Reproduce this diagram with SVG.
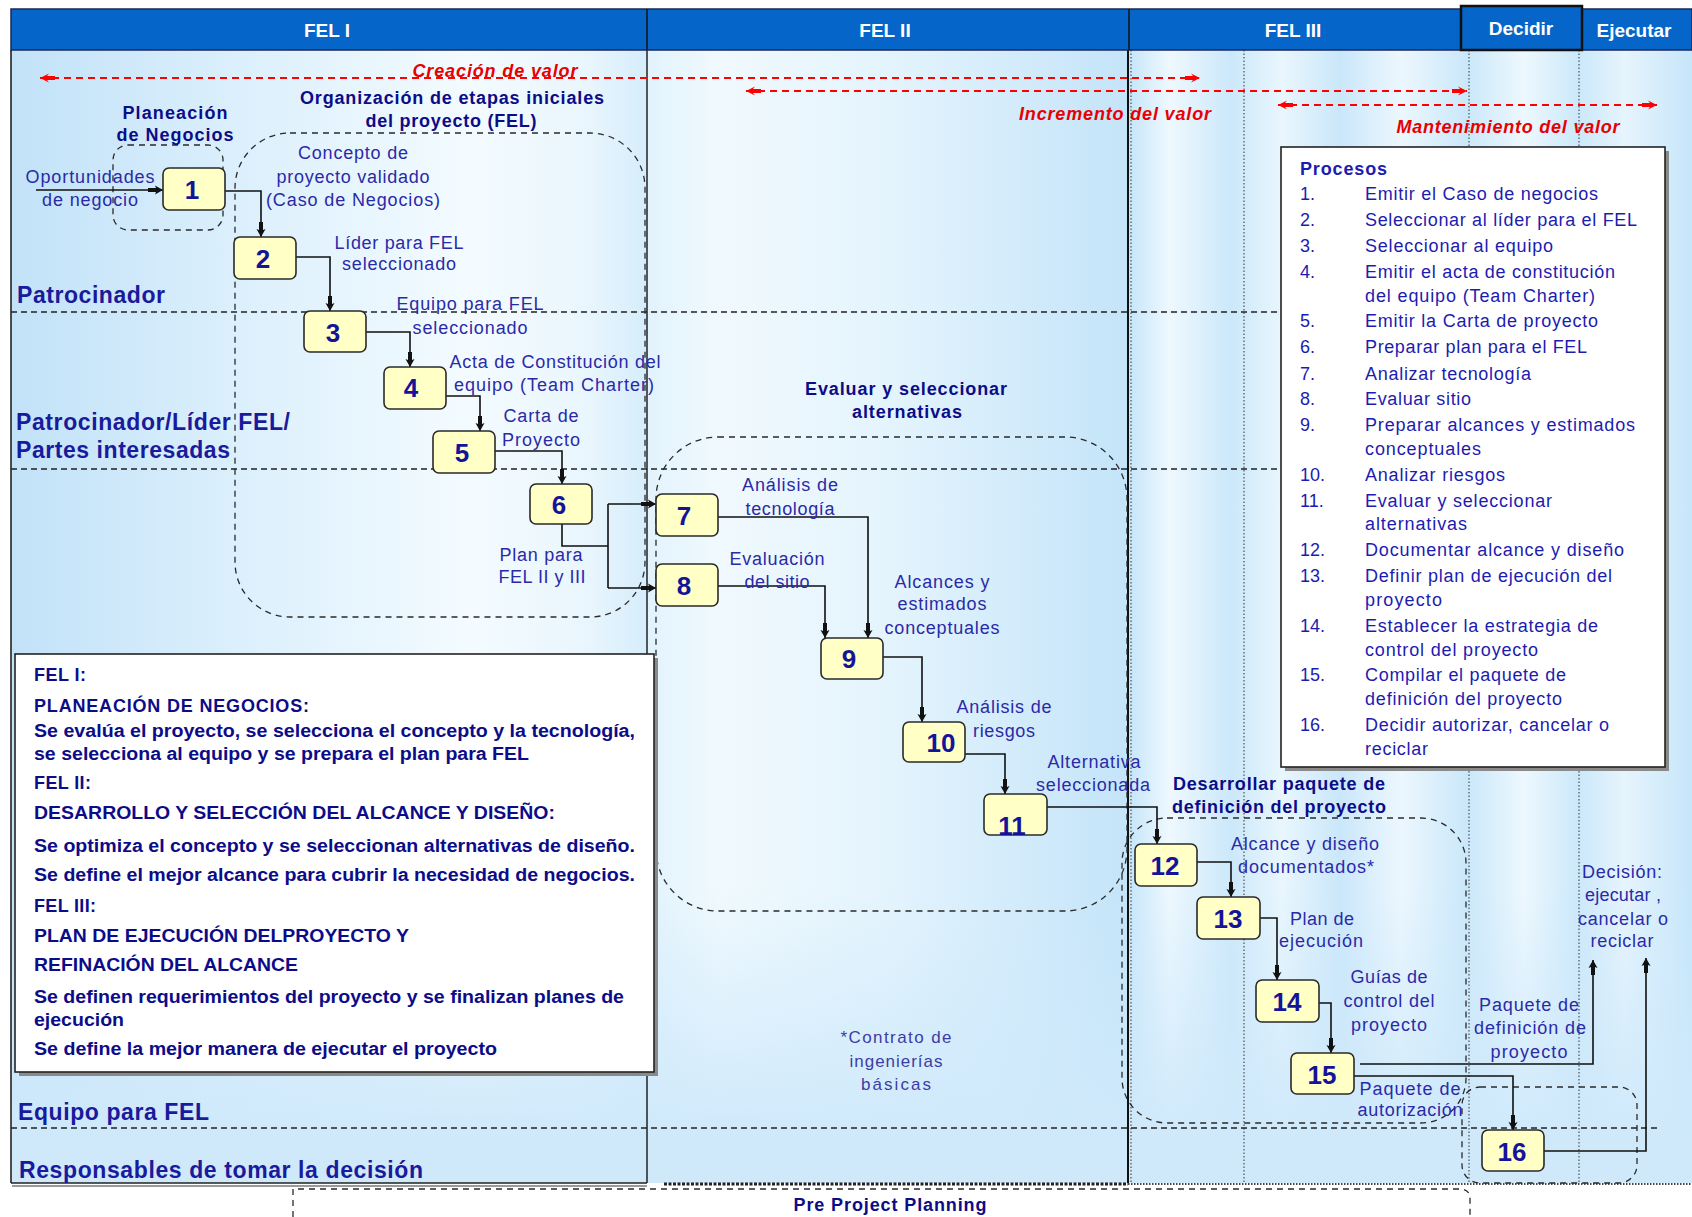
<svg xmlns="http://www.w3.org/2000/svg" width="1692" height="1217" viewBox="0 0 1692 1217">
  <style>
    text { font-family: "Liberation Sans", Arial, sans-serif; }
    .lbl { font-size: 18px; fill: #2a2aa8; text-anchor: middle; }
    .note { font-size: 17px; fill: #3c3ca4; text-anchor: middle; }
    .hd { font-size: 18px; font-weight: bold; fill: #0c0c88; text-anchor: middle; }
    .lane { font-size: 23px; font-weight: bold; fill: #1a1a9c; }
    .num { font-size: 26px; font-weight: bold; fill: #14149a; text-anchor: middle; }
    .red { font-size: 18px; font-style: italic; font-weight: bold; fill: #e80000; text-anchor: middle; }
    .hdr { font-size: 19px; font-weight: bold; fill: #ffffff; text-anchor: middle; }
    .leg { font-size: 18px; font-weight: bold; fill: #0c0c88; }
    .proc { font-size: 18px; fill: #1c1cb0; }
    .node rect { fill: #ffffc6; stroke: #2a2a2a; stroke-width: 1.6; }
    .conn { fill: none; stroke: #111111; stroke-width: 1.6; }
    .grp { fill: none; stroke: #2a2a2a; stroke-width: 1.3; stroke-dasharray: 6 5; }
    .laneline { stroke: #222222; stroke-width: 1.5; stroke-dasharray: 6 4; }
    .dot { stroke: #333333; stroke-width: 1; stroke-dasharray: 1.5 2; }
    .value { fill: none; stroke: #ff0000; stroke-width: 2; stroke-dasharray: 7 5; }
    .box { fill: #ffffff; stroke: #222222; stroke-width: 1.6; }
    .shadow { fill: #8a8a8a; }
  </style>
  <defs>
    <linearGradient id="gFel1" x1="11" y1="0" x2="647" y2="0" gradientUnits="userSpaceOnUse">
      <stop offset="0" stop-color="#c2e2f8"/>
      <stop offset="0.35" stop-color="#dbeffc"/>
      <stop offset="0.72" stop-color="#f3fbff"/>
      <stop offset="0.9" stop-color="#eaf6fd"/>
      <stop offset="1" stop-color="#d6edfb"/>
    </linearGradient>
    <linearGradient id="gFel2" x1="647" y1="0" x2="1129" y2="0" gradientUnits="userSpaceOnUse">
      <stop offset="0" stop-color="#e2f3fd"/>
      <stop offset="0.15" stop-color="#f0f9fe"/>
      <stop offset="0.5" stop-color="#e4f4fd"/>
      <stop offset="1" stop-color="#c4e4f9"/>
    </linearGradient>
    <linearGradient id="gFel3" x1="1129" y1="0" x2="1469" y2="0" gradientUnits="userSpaceOnUse">
      <stop offset="0" stop-color="#c6e6fa"/>
      <stop offset="0.12" stop-color="#eef8fe"/>
      <stop offset="0.3" stop-color="#cbe8fa"/>
      <stop offset="0.45" stop-color="#e9f6fd"/>
      <stop offset="0.62" stop-color="#cae7fa"/>
      <stop offset="0.8" stop-color="#ecf7fe"/>
      <stop offset="1" stop-color="#c9e7fa"/>
    </linearGradient>
    <linearGradient id="gDec" x1="1469" y1="0" x2="1579" y2="0" gradientUnits="userSpaceOnUse">
      <stop offset="0" stop-color="#cbe8fa"/>
      <stop offset="0.5" stop-color="#edf8fe"/>
      <stop offset="1" stop-color="#cbe8fa"/>
    </linearGradient>
    <linearGradient id="gEje" x1="1579" y1="0" x2="1692" y2="0" gradientUnits="userSpaceOnUse">
      <stop offset="0" stop-color="#cbe8fa"/>
      <stop offset="0.4" stop-color="#e6f4fd"/>
      <stop offset="1" stop-color="#c6e6fa"/>
    </linearGradient>
    <linearGradient id="gFade" x1="0" y1="50" x2="0" y2="1183" gradientUnits="userSpaceOnUse">
      <stop offset="0" stop-color="#cfe9fb" stop-opacity="0"/>
      <stop offset="0.74" stop-color="#cfe9fb" stop-opacity="0"/>
      <stop offset="0.96" stop-color="#cfe9fb" stop-opacity="1"/>
      <stop offset="1" stop-color="#cfe9fb" stop-opacity="1"/>
    </linearGradient>
    <marker id="arr" viewBox="-16 -5 17 10" refX="0" refY="0" markerWidth="17" markerHeight="10" markerUnits="userSpaceOnUse" orient="auto">
      <path d="M0,0 L-8,-4.5 L-7,-2 L-15,-2 L-15,2 L-7,2 L-8,4.5 Z" fill="#111111"/>
    </marker>
    <marker id="arrRed" viewBox="-16 -5 17 10" refX="0" refY="0" markerWidth="17" markerHeight="10" markerUnits="userSpaceOnUse" orient="auto-start-reverse">
      <path d="M0,0 L-9,-4.5 L-7,-2 L-15,-2 L-15,2 L-7,2 L-9,4.5 Z" fill="#ff0000"/>
    </marker>
  </defs>

  <!-- page -->
  <rect x="0" y="0" width="1692" height="1217" fill="#ffffff"/>

  <!-- swimlane body -->
  <g id="body">
    <rect x="11" y="50" width="1681" height="1133" fill="#cfe9fb"/>
    <rect x="11" y="50" width="636" height="1133" fill="url(#gFel1)"/>
    <rect x="647" y="50" width="482" height="1133" fill="url(#gFel2)"/>
    <rect x="1129" y="50" width="340" height="1133" fill="url(#gFel3)"/>
    <rect x="1469" y="50" width="110" height="1133" fill="url(#gDec)"/>
    <rect x="1579" y="50" width="113" height="1133" fill="url(#gEje)"/>
    <rect x="11" y="50" width="1681" height="1133" fill="url(#gFade)"/>
    <!-- column dividers -->
    <line x1="11" y1="50" x2="11" y2="1183" stroke="#222" stroke-width="1.6"/>
    <line x1="647" y1="50" x2="647" y2="1183" stroke="#222" stroke-width="1.5"/>
    <line x1="1128" y1="50" x2="1128" y2="1183" stroke="#111" stroke-width="2"/>
    <line x1="1131" y1="50" x2="1131" y2="1183" class="dot"/>
    <line x1="1244" y1="50" x2="1244" y2="1183" class="dot"/>
    <line x1="1469" y1="50" x2="1469" y2="1183" class="dot"/>
    <line x1="1579" y1="50" x2="1579" y2="1183" class="dot"/>
    <!-- lane separators -->
    <line x1="11" y1="312" x2="1281" y2="312" class="laneline"/>
    <line x1="11" y1="469" x2="1281" y2="469" class="laneline"/>
    <line x1="11" y1="1128" x2="1657" y2="1128" class="laneline"/>
    <!-- bottom edge -->
    <line x1="11" y1="1183" x2="647" y2="1183" stroke="#222" stroke-width="1.6"/>
    <line x1="12" y1="1186" x2="647" y2="1186" stroke="#9a9a9a" stroke-width="2"/>
    <line x1="664" y1="1184" x2="1128" y2="1184" stroke="#222" stroke-width="3" stroke-dasharray="3 1.5"/>
    <line x1="1128" y1="1184" x2="1692" y2="1184" stroke="#444" stroke-width="2" stroke-dasharray="1.5 1.5"/>
  </g>

  <!-- phase header -->
  <g id="header">
    <rect x="11" y="9" width="1681" height="41" fill="#0665c9" stroke="#1a2a55" stroke-width="1.5"/>
    <line x1="647" y1="9" x2="647" y2="50" stroke="#111" stroke-width="1.5"/>
    <line x1="1129" y1="9" x2="1129" y2="50" stroke="#111" stroke-width="1.5"/>
    <rect x="1461" y="6" width="121" height="44" fill="#0665c9" stroke="#111" stroke-width="2.5"/>
    <text class="hdr" x="327" y="37">FEL I</text>
    <text class="hdr" x="885" y="37">FEL II</text>
    <text class="hdr" x="1293" y="37">FEL III</text>
    <text class="hdr" x="1521" y="35">Decidir</text>
    <text class="hdr" x="1634" y="37">Ejecutar</text>
  </g>

  <!-- value arrows -->
  <g id="value-arrows">
    <line x1="40" y1="78" x2="1200" y2="78" class="value" marker-start="url(#arrRed)" marker-end="url(#arrRed)"/>
    <line x1="746" y1="91" x2="1467" y2="91" class="value" marker-start="url(#arrRed)" marker-end="url(#arrRed)"/>
    <line x1="1278" y1="105" x2="1657" y2="105" class="value" marker-start="url(#arrRed)" marker-end="url(#arrRed)"/>
    <text class="red" x="495" y="77" textLength="165">Creación de valor</text>
    <text class="red" x="1115" y="120" textLength="192">Incremento del valor</text>
    <text class="red" x="1508" y="133" textLength="223">Mantenimiento del valor</text>
  </g>

  <!-- lane names -->
  <g id="lanes">
    <text class="lane" x="17" y="303" textLength="148">Patrocinador</text>
    <text class="lane" x="16" y="430" textLength="274">Patrocinador/Líder FEL/</text>
    <text class="lane" x="16" y="458" textLength="214">Partes interesadas</text>
    <text class="lane" x="18" y="1120" textLength="191">Equipo para FEL</text>
    <text class="lane" x="19" y="1178" textLength="404">Responsables de tomar la decisión</text>
  </g>

  <!-- stage groupings -->
  <g id="groups">
    <rect class="grp" x="113" y="145" width="110" height="85" rx="15"/>
    <rect class="grp" x="235" y="133" width="410" height="484" rx="55"/>
    <rect class="grp" x="656" y="437" width="471" height="474" rx="62"/>
    <rect class="grp" x="1122" y="818" width="344" height="305" rx="45"/>
    <rect class="grp" x="1462" y="1087" width="175" height="96" rx="18"/>
    <path class="grp" d="M293,1217 V1189 H1460 Q1470,1189 1470,1199 V1217"/>
    <text class="hd" x="175" y="119" textLength="105">Planeación</text>
    <text class="hd" x="175" y="141" textLength="117">de Negocios</text>
    <text class="hd" x="452" y="104" textLength="304">Organización de etapas iniciales</text>
    <text class="hd" x="451" y="127" textLength="171">del proyecto (FEL)</text>
    <text class="hd" x="906" y="395" textLength="202">Evaluar y seleccionar</text>
    <text class="hd" x="907" y="418" textLength="110">alternativas</text>
    <text class="hd" x="1279" y="790" textLength="212">Desarrollar paquete de</text>
    <text class="hd" x="1279" y="813" textLength="214">definición del proyecto</text>
    <text class="hd" x="890" y="1211" textLength="193">Pre Project Planning</text>
  </g>

  <!-- connectors -->
  <g id="connectors">
    <path class="conn" d="M36,190 H163" marker-end="url(#arr)"/>
    <path class="conn" d="M225,191 H261 V237" marker-end="url(#arr)"/>
    <path class="conn" d="M296,257 H330 V311" marker-end="url(#arr)"/>
    <path class="conn" d="M366,332 H410 V367" marker-end="url(#arr)"/>
    <path class="conn" d="M446,396 H480 V431" marker-end="url(#arr)"/>
    <path class="conn" d="M495,451 H562 V484" marker-end="url(#arr)"/>
    <path class="conn" d="M562,524 V546 H608 M608,504 V588"/>
    <path class="conn" d="M608,504 H656" marker-end="url(#arr)"/>
    <path class="conn" d="M608,588 H656" marker-end="url(#arr)"/>
    <path class="conn" d="M718,517 H868 V638" marker-end="url(#arr)"/>
    <path class="conn" d="M718,586 H825 V638" marker-end="url(#arr)"/>
    <path class="conn" d="M882,657 H922 V722" marker-end="url(#arr)"/>
    <path class="conn" d="M965,754 H1005 V794" marker-end="url(#arr)"/>
    <path class="conn" d="M1047,807 H1157 V844" marker-end="url(#arr)"/>
    <path class="conn" d="M1197,862 H1231 V897" marker-end="url(#arr)"/>
    <path class="conn" d="M1260,918 H1277 V980" marker-end="url(#arr)"/>
    <path class="conn" d="M1319,1003 H1331 V1053" marker-end="url(#arr)"/>
    <path class="conn" d="M1354,1076 H1513 V1130" marker-end="url(#arr)"/>
    <path class="conn" d="M1360,1064 H1593 V960" marker-end="url(#arr)"/>
    <path class="conn" d="M1544,1151 H1646 V958" marker-end="url(#arr)"/>
  </g>

  <!-- flow labels -->
  <g id="flow-labels">
    <text class="lbl" x="90" y="183" textLength="129">Oportunidades</text>
    <text class="lbl" x="90" y="206" textLength="96">de negocio</text>
    <text class="lbl" x="353" y="159" textLength="110">Concepto de</text>
    <text class="lbl" x="353" y="183" textLength="153">proyecto validado</text>
    <text class="lbl" x="353" y="206" textLength="174">(Caso de Negocios)</text>
    <text class="lbl" x="399" y="249" textLength="129">Líder para FEL</text>
    <text class="lbl" x="399" y="270" textLength="114">seleccionado</text>
    <text class="lbl" x="470" y="310" textLength="147">Equipo para FEL</text>
    <text class="lbl" x="470" y="334" textLength="115">seleccionado</text>
    <text class="lbl" x="555" y="368" textLength="211">Acta de Constitución del</text>
    <text class="lbl" x="554" y="391" textLength="200">equipo (Team Charter)</text>
    <text class="lbl" x="541" y="422" textLength="75">Carta de</text>
    <text class="lbl" x="541" y="446" textLength="78">Proyecto</text>
    <text class="lbl" x="541" y="561" textLength="83">Plan para</text>
    <text class="lbl" x="542" y="583" textLength="87">FEL II y III</text>
    <text class="lbl" x="790" y="491" textLength="96">Análisis de</text>
    <text class="lbl" x="790" y="515" textLength="89">tecnología</text>
    <text class="lbl" x="777" y="565" textLength="95">Evaluación</text>
    <text class="lbl" x="777" y="588" textLength="65">del sitio</text>
    <text class="lbl" x="942" y="588" textLength="95">Alcances y</text>
    <text class="lbl" x="942" y="610" textLength="89">estimados</text>
    <text class="lbl" x="942" y="634" textLength="115">conceptuales</text>
    <text class="lbl" x="1004" y="713" textLength="95">Análisis de</text>
    <text class="lbl" x="1004" y="737" textLength="62">riesgos</text>
    <text class="lbl" x="1094" y="768" textLength="93">Alternativa</text>
    <text class="lbl" x="1093" y="791" textLength="114">seleccionada</text>
    <text class="lbl" x="1305" y="850" textLength="148">Alcance y diseño</text>
    <text class="lbl" x="1306" y="873" textLength="136">documentados*</text>
    <text class="lbl" x="1322" y="925" textLength="64">Plan de</text>
    <text class="lbl" x="1321" y="947" textLength="84">ejecución</text>
    <text class="lbl" x="1389" y="983" textLength="77">Guías de</text>
    <text class="lbl" x="1389" y="1007" textLength="91">control del</text>
    <text class="lbl" x="1389" y="1031" textLength="76">proyecto</text>
    <text class="lbl" x="1529" y="1011" textLength="100">Paquete de</text>
    <text class="lbl" x="1530" y="1034" textLength="112">definición de</text>
    <text class="lbl" x="1529" y="1058" textLength="77">proyecto</text>
    <text class="lbl" x="1410" y="1095" textLength="101">Paquete de</text>
    <text class="lbl" x="1410" y="1116" textLength="105">autorización</text>
    <text class="lbl" x="1622" y="878" textLength="80">Decisión:</text>
    <text class="lbl" x="1623" y="901" textLength="76">ejecutar ,</text>
    <text class="lbl" x="1623" y="925" textLength="90">cancelar o</text>
    <text class="lbl" x="1622" y="947" textLength="63">reciclar</text>
    <text class="note" x="896" y="1043" textLength="111">*Contrato de</text>
    <text class="note" x="896" y="1067" textLength="93">ingenierías</text>
    <text class="note" x="896" y="1090" textLength="70">básicas</text>
  </g>

  <!-- process nodes -->
  <g id="node-1" class="node"><rect x="163" y="168" width="62" height="42" rx="6"/><text class="num" x="192" y="199">1</text></g>
  <g id="node-2" class="node"><rect x="234" y="237" width="62" height="42" rx="6"/><text class="num" x="263" y="268">2</text></g>
  <g id="node-3" class="node"><rect x="304" y="311" width="62" height="41" rx="6"/><text class="num" x="333" y="342">3</text></g>
  <g id="node-4" class="node"><rect x="384" y="367" width="62" height="42" rx="6"/><text class="num" x="411" y="397">4</text></g>
  <g id="node-5" class="node"><rect x="433" y="431" width="62" height="42" rx="6"/><text class="num" x="462" y="462">5</text></g>
  <g id="node-6" class="node"><rect x="530" y="484" width="62" height="40" rx="6"/><text class="num" x="559" y="514">6</text></g>
  <g id="node-7" class="node"><rect x="656" y="494" width="62" height="42" rx="6"/><text class="num" x="684" y="525">7</text></g>
  <g id="node-8" class="node"><rect x="656" y="564" width="62" height="42" rx="6"/><text class="num" x="684" y="595">8</text></g>
  <g id="node-9" class="node"><rect x="821" y="638" width="62" height="41" rx="6"/><text class="num" x="849" y="668">9</text></g>
  <g id="node-10" class="node"><rect x="903" y="722" width="62" height="40" rx="6"/><text class="num" x="941" y="752">10</text></g>
  <g id="node-11" class="node"><rect x="984" y="794" width="63" height="41" rx="6"/><text class="num" x="1012" y="835">11</text></g>
  <g id="node-12" class="node"><rect x="1135" y="844" width="62" height="42" rx="6"/><text class="num" x="1165" y="875">12</text></g>
  <g id="node-13" class="node"><rect x="1197" y="897" width="63" height="42" rx="6"/><text class="num" x="1228" y="928">13</text></g>
  <g id="node-14" class="node"><rect x="1256" y="980" width="63" height="42" rx="6"/><text class="num" x="1287" y="1011">14</text></g>
  <g id="node-15" class="node"><rect x="1291" y="1053" width="63" height="41" rx="6"/><text class="num" x="1322" y="1084">15</text></g>
  <g id="node-16" class="node"><rect x="1482" y="1130" width="62" height="41" rx="6"/><text class="num" x="1512" y="1161">16</text></g>

  <!-- FEL summary -->
  <g id="fel-summary">
    <rect class="shadow" x="19" y="658" width="639" height="418"/>
    <rect class="box" x="15" y="654" width="639" height="418"/>
    <text class="leg" x="34" y="681" textLength="52">FEL I:</text>
    <text class="leg" x="34" y="712" textLength="275">PLANEACIÓN DE NEGOCIOS:</text>
    <text class="leg" x="34" y="737" textLength="601" lengthAdjust="spacingAndGlyphs">Se evalúa el proyecto, se selecciona el concepto y la tecnología,</text>
    <text class="leg" x="34" y="760" textLength="495" lengthAdjust="spacingAndGlyphs">se selecciona al equipo y se prepara el plan para FEL</text>
    <text class="leg" x="34" y="789" textLength="57">FEL II:</text>
    <text class="leg" x="34" y="819" textLength="521" lengthAdjust="spacingAndGlyphs">DESARROLLO Y SELECCIÓN DEL ALCANCE Y DISEÑO:</text>
    <text class="leg" x="34" y="852" textLength="601" lengthAdjust="spacingAndGlyphs">Se optimiza el concepto y se seleccionan alternativas de diseño.</text>
    <text class="leg" x="34" y="881" textLength="601" lengthAdjust="spacingAndGlyphs">Se define el mejor alcance para cubrir la necesidad de negocios.</text>
    <text class="leg" x="34" y="912" textLength="62">FEL III:</text>
    <text class="leg" x="34" y="942" textLength="375" lengthAdjust="spacingAndGlyphs">PLAN DE EJECUCIÓN DELPROYECTO Y</text>
    <text class="leg" x="34" y="971" textLength="264" lengthAdjust="spacingAndGlyphs">REFINACIÓN DEL ALCANCE</text>
    <text class="leg" x="34" y="1003" textLength="590" lengthAdjust="spacingAndGlyphs">Se definen requerimientos del proyecto y se finalizan planes de</text>
    <text class="leg" x="34" y="1026" textLength="90" lengthAdjust="spacingAndGlyphs">ejecución</text>
    <text class="leg" x="34" y="1055" textLength="463" lengthAdjust="spacingAndGlyphs">Se define la mejor manera de ejecutar el proyecto</text>
  </g>

  <!-- process list -->
  <g id="process-list">
    <rect class="shadow" x="1285" y="151" width="384" height="620"/>
    <rect class="box" x="1281" y="147" width="384" height="620"/>
    <text class="proc" x="1300" y="175" font-weight="bold" fill="#0c0c88" textLength="87">Procesos</text>
    <g class="proc">
      <text class="proc" x="1300" y="200">1.</text><text class="proc" x="1365" y="200" textLength="233">Emitir el Caso de negocios</text>
      <text class="proc" x="1300" y="226">2.</text><text class="proc" x="1365" y="226" textLength="272">Seleccionar al líder para el FEL</text>
      <text class="proc" x="1300" y="252">3.</text><text class="proc" x="1365" y="252" textLength="188">Seleccionar al equipo</text>
      <text class="proc" x="1300" y="278">4.</text><text class="proc" x="1365" y="278" textLength="250">Emitir el acta de constitución</text>
      <text class="proc" x="1365" y="302" textLength="230">del equipo (Team Charter)</text>
      <text class="proc" x="1300" y="327">5.</text><text class="proc" x="1365" y="327" textLength="233">Emitir la Carta de proyecto</text>
      <text class="proc" x="1300" y="353">6.</text><text class="proc" x="1365" y="353" textLength="222">Preparar plan para el FEL</text>
      <text class="proc" x="1300" y="380">7.</text><text class="proc" x="1365" y="380" textLength="166">Analizar tecnología</text>
      <text class="proc" x="1300" y="405">8.</text><text class="proc" x="1365" y="405" textLength="106">Evaluar sitio</text>
      <text class="proc" x="1300" y="431">9.</text><text class="proc" x="1365" y="431" textLength="270">Preparar alcances y estimados</text>
      <text class="proc" x="1365" y="455" textLength="116">conceptuales</text>
      <text class="proc" x="1300" y="481">10.</text><text class="proc" x="1365" y="481" textLength="140">Analizar riesgos</text>
      <text class="proc" x="1300" y="507">11.</text><text class="proc" x="1365" y="507" textLength="187">Evaluar y seleccionar</text>
      <text class="proc" x="1365" y="530" textLength="102">alternativas</text>
      <text class="proc" x="1300" y="556">12.</text><text class="proc" x="1365" y="556" textLength="259">Documentar alcance y diseño</text>
      <text class="proc" x="1300" y="582">13.</text><text class="proc" x="1365" y="582" textLength="247">Definir plan de ejecución del</text>
      <text class="proc" x="1365" y="606" textLength="77">proyecto</text>
      <text class="proc" x="1300" y="632">14.</text><text class="proc" x="1365" y="632" textLength="233">Establecer la estrategia de</text>
      <text class="proc" x="1365" y="656" textLength="173">control del proyecto</text>
      <text class="proc" x="1300" y="681">15.</text><text class="proc" x="1365" y="681" textLength="201">Compilar el paquete de</text>
      <text class="proc" x="1365" y="705" textLength="197">definición del proyecto</text>
      <text class="proc" x="1300" y="731">16.</text><text class="proc" x="1365" y="731" textLength="244">Decidir autorizar, cancelar o</text>
      <text class="proc" x="1365" y="755" textLength="63">reciclar</text>
    </g>
  </g>
</svg>
